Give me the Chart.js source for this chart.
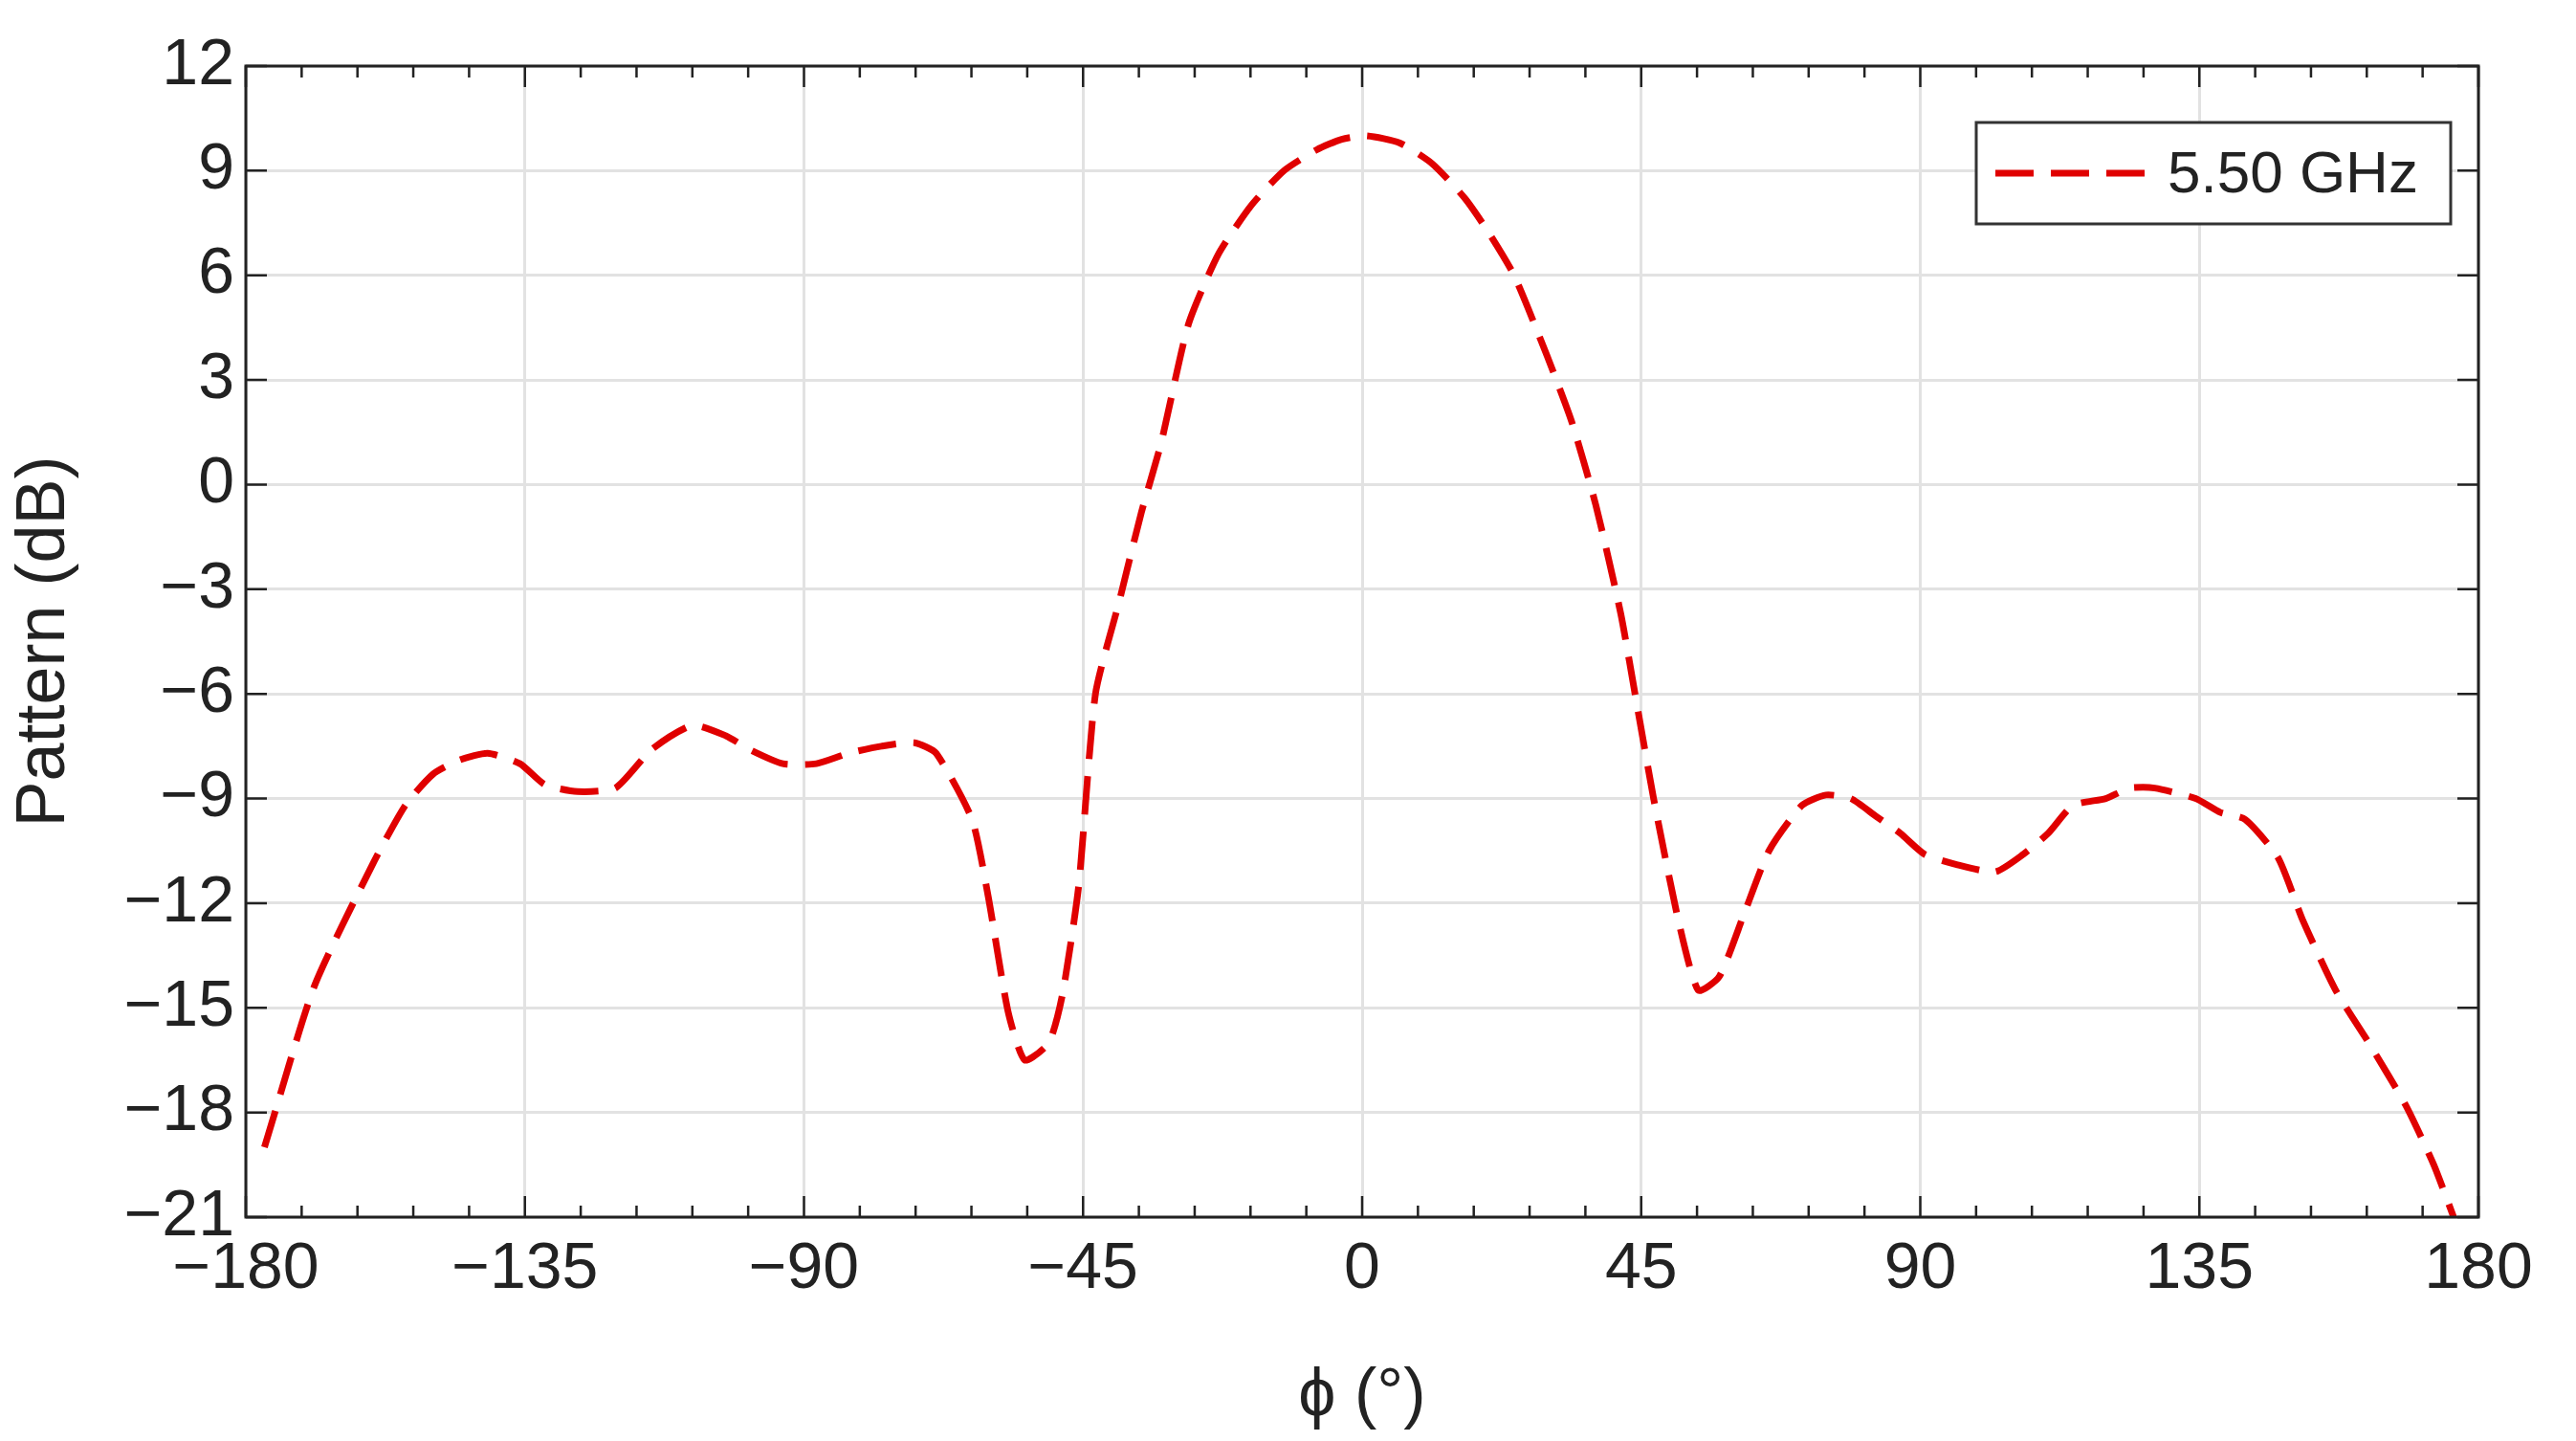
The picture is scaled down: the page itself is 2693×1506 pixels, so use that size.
<!DOCTYPE html>
<html>
<head>
<meta charset="utf-8">
<script src="https://cdn.jsdelivr.net/npm/chart.js@4"></script>
<style>
  body { margin: 0; background: #fff; }
  #wrap { width: 2693px; height: 1506px; }
</style>
</head>
<body>
<div id="wrap"><canvas id="chart" width="2693" height="1506"></canvas></div>
<script>
const phi = [-177, -169, -159.6, -154.3, -149.8, -145.6, -141, -135.8, -131.8, -126.5, -120.4, -114.6, -108, -102.6, -98.7, -93.4, -88, -82.8, -77.5, -72.2, -68.7, -62.9, -60.3, -57.1, -54.4, -50.5, -48.3, -45.7, -43, -39.1, -35.6, -32.4, -28, -23.2, -17.9, -12.6, -7.3, -3.3, 0.7, 6, 11.3, 16.6, 20.5, 24.5, 29.8, 33.8, 37.7, 41.7, 44.4, 47, 51, 54.2, 57.6, 61.6, 65.6, 70.9, 74.8, 78.8, 82.8, 86.8, 90.7, 96, 102.1, 106.6, 110.6, 114.6, 119.9, 123.8, 127.8, 134.4, 138.4, 142.4, 147.7, 151.7, 157, 162.3, 168.3, 172.8, 176];
const pattern = [-19, -14.4, -10.9, -9.2, -8.3, -7.9, -7.7, -8.0, -8.6, -8.8, -8.7, -7.6, -6.9, -7.2, -7.6, -8.0, -8.0, -7.7, -7.5, -7.4, -7.7, -9.6, -11.8, -15.1, -16.5, -16.0, -14.6, -11.5, -6, -3.3, -0.8, 1.2, 4.6, 6.6, 8.0, 9.0, 9.6, 9.9, 10.0, 9.8, 9.2, 8.2, 7.2, 6.0, 3.7, 1.8, -0.6, -3.7, -6.4, -9, -12.5, -14.5, -14.1, -12.3, -10.5, -9.2, -8.9, -9.0, -9.5, -10.0, -10.6, -10.9, -11.1, -10.6, -10.0, -9.2, -9.0, -8.7, -8.7, -9.0, -9.4, -9.6, -10.7, -12.5, -14.5, -16.0, -17.8, -19.5, -21];
const seriesLabel = '5.50 GHz';
const xTicks = [-180, -135, -90, -45, 0, 45, 90, 135, 180];
const yTicks = [-21, -18, -15, -12, -9, -6, -3, 0, 3, 6, 9, 12];

const FONT = 'Liberation Sans, Arial, sans-serif';
const RED = '#e00000';
const fmt = v => String(v).replace('-', '\u2212');

// inward ticks, frame and legend
const decor = {
    id: 'decor',
    afterDraw(chart) {
        const ctx = chart.ctx;
        const a = chart.chartArea;
        const xs = chart.scales.x, ys = chart.scales.y;
        ctx.save();
        ctx.strokeStyle = '#222';
        ctx.lineWidth = 3;
        ctx.strokeRect(a.left, a.top, a.right - a.left, a.bottom - a.top);
        ctx.lineWidth = 2.5;
        for (let v = -180; v <= 180; v += 9) {
            const p = xs.getPixelForValue(v);
            const len = v % 45 === 0 ? 22 : 12;
            ctx.beginPath();
            ctx.moveTo(p, a.bottom); ctx.lineTo(p, a.bottom - len);
            ctx.moveTo(p, a.top); ctx.lineTo(p, a.top + len);
            ctx.stroke();
        }
        for (const v of yTicks) {
            const p = ys.getPixelForValue(v);
            ctx.beginPath();
            ctx.moveTo(a.left, p); ctx.lineTo(a.left + 22, p);
            ctx.moveTo(a.right, p); ctx.lineTo(a.right - 22, p);
            ctx.stroke();
        }
        // legend
        const lx = 2066, ly = 128, lw = 496, lh = 106;
        ctx.fillStyle = '#fff';
        ctx.fillRect(lx, ly, lw, lh);
        ctx.strokeStyle = '#333';
        ctx.lineWidth = 3;
        ctx.strokeRect(lx, ly, lw, lh);
        ctx.strokeStyle = RED;
        ctx.lineWidth = 7;
        ctx.setLineDash([40, 18]);
        ctx.beginPath();
        ctx.moveTo(lx + 20, ly + lh / 2); ctx.lineTo(lx + 190, ly + lh / 2);
        ctx.stroke();
        ctx.setLineDash([]);
        ctx.fillStyle = '#222';
        ctx.font = '62px ' + FONT;
        ctx.textBaseline = 'middle';
        ctx.fillText(seriesLabel, lx + 200, ly + lh / 2 + 3);
        ctx.restore();
    }
};

new Chart(document.getElementById('chart'), {
    type: 'line',
    data: {
        datasets: [{
            label: seriesLabel,
            data: phi.map((x, i) => ({ x: x, y: pattern[i] })),
            borderColor: RED,
            borderWidth: 7,
            borderDash: [40, 18],
            pointRadius: 0,
            tension: 0.2,
            fill: false
        }]
    },
    options: {
        responsive: false,
        animation: false,
        layout: { padding: { top: 69, right: 102, left: 0, bottom: 0 } },
        plugins: { legend: { display: false }, tooltip: { enabled: false } },
        scales: {
            x: {
                type: 'linear', min: -180, max: 180,
                afterBuildTicks: s => { s.ticks = xTicks.map(v => ({ value: v })); },
                afterFit: s => { s.height = 222 + 12; },
                grid: { color: '#e2e2e2', lineWidth: 3, drawTicks: false },
                border: { display: false },
                ticks: { color: '#222', font: { family: FONT, size: 68 }, padding: 14, maxRotation: 0, callback: v => fmt(v) },
                title: { display: true, text: '\u03d5 (\u00b0)', color: '#222', font: { family: FONT, size: 70 }, padding: { top: -8 } }
            },
            y: {
                min: -21, max: 12,
                afterBuildTicks: s => { s.ticks = yTicks.map(v => ({ value: v })); },
                afterFit: s => { s.width = 257; },
                grid: { color: '#e2e2e2', lineWidth: 3, drawTicks: false },
                border: { display: false },
                ticks: { color: '#222', font: { family: FONT, size: 68 }, padding: 12, callback: v => fmt(v) },
                title: { display: true, text: 'Pattern (dB)', color: '#222', font: { family: FONT, size: 72 }, padding: { bottom: 2 } }
            }
        }
    },
    plugins: [decor]
});
</script>
</body>
</html>
